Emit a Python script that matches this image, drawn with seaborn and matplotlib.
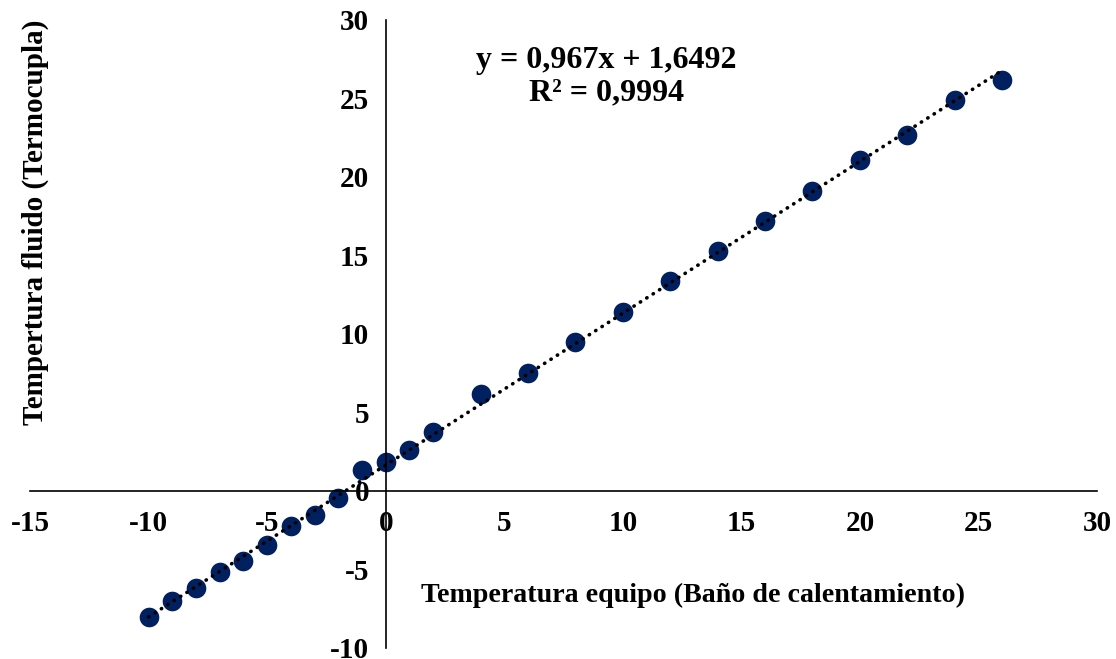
import numpy as np
import pandas as pd
import matplotlib
matplotlib.use('Agg')
import matplotlib.pyplot as plt
import seaborn as sns

# readings: bath setpoint vs thermocouple
temp_equipo = [-10, -9, -8, -7, -6, -5, -4, -3, -2, -1, 0, 1, 2,
               4, 6, 8, 10, 12, 14, 16, 18, 20, 22, 24, 26]
temp_fluido = [-8.0, -7.0, -6.2, -5.15, -4.45, -3.45, -2.25, -1.55, -0.45,
               1.35, 1.85, 2.6, 3.75, 6.2, 7.5, 9.5, 11.4, 13.4, 15.3,
               17.2, 19.1, 21.1, 22.7, 24.9, 26.2]
slope = 0.967
intercept = 1.6492
r2_text = '0,9994'
x_ticks = [-15, -10, -5, 0, 5, 10, 15, 20, 25, 30]
y_ticks = [-10, -5, 0, 5, 10, 15, 20, 25, 30]

df = pd.DataFrame({'x': temp_equipo, 'y': temp_fluido})

sns.set_style('white')
plt.rcParams['font.family'] = ['Liberation Serif', 'DejaVu Serif']
plt.rcParams['font.weight'] = 'bold'
plt.rcParams['axes.unicode_minus'] = False
plt.rcParams['text.color'] = 'black'

fig = plt.figure(figsize=(11.16, 6.59), dpi=100)
ax = fig.add_axes([0.0269, 0.0167, 0.9561, 0.953])

# trendline
xl = np.array([min(temp_equipo), max(temp_equipo)])
ax.plot(xl, slope * xl + intercept, color='black', lw=2.6,
        linestyle=(0, (0.1, 2.0)), dash_capstyle='round', zorder=3)

sns.scatterplot(data=df, x='x', y='y', ax=ax, color='#002060', s=200,
                linewidth=0, zorder=2)

ax.set_xlim(-15, 30)
ax.set_ylim(-10, 30)
ax.set_xticks(x_ticks)
ax.set_yticks(y_ticks)
ax.set_xlabel('')
ax.set_ylabel('')

for s in ['top', 'right']:
    ax.spines[s].set_visible(False)
ax.spines['left'].set_position(('data', 0))
ax.spines['bottom'].set_position(('data', 0))
for s in ['left', 'bottom']:
    ax.spines[s].set_linewidth(1.2)
    ax.spines[s].set_color('black')

ax.tick_params(axis='both', direction='out', length=6, width=1.2,
               colors='black', labelsize=21)
ax.tick_params(axis='x', pad=8)
ax.tick_params(axis='y', pad=6)
for lab in ax.get_xticklabels() + ax.get_yticklabels():
    lab.set_fontweight('bold')
    lab.set_color('black')

eq = f'y = {str(slope).replace(".", ",")}x + {str(intercept).replace(".", ",")}\nR² = {r2_text}'
ax.text(9.3, 26.4, eq, ha='center', va='center', fontsize=23,
        fontweight='bold', color='black', linespacing=1.15)

fig.text(0.621, 0.097, 'Temperatura equipo (Baño de calentamiento)',
         ha='center', va='center', fontsize=20.2, fontweight='bold', color='black')
fig.text(0.032, 0.663, 'Tempertura fluido (Termocupla)', rotation=90,
         ha='center', va='center', fontsize=21, fontweight='bold', color='black')

fig.savefig('out.png', dpi=100)
